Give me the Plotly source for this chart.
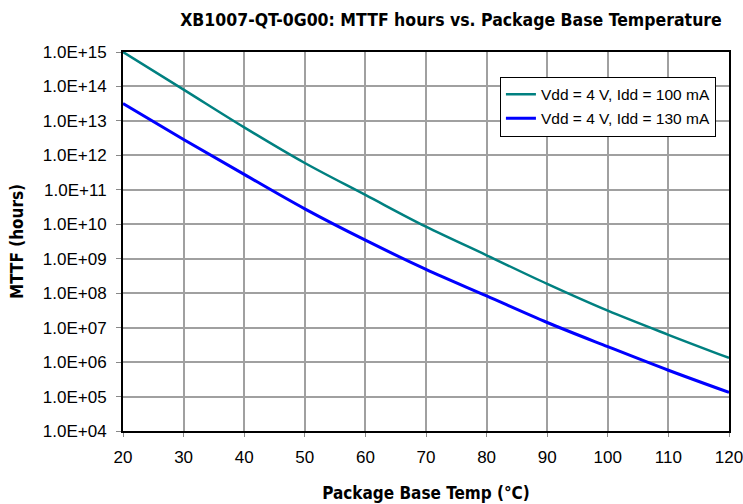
import plotly.graph_objects as go

temps = [20, 30, 40, 50, 60, 70, 80, 90, 100, 110, 120]
mttf_100mA = [1.0e15, 8.1e13, 6.5e12, 6.0e11, 7.1e10, 8.5e9, 1.26e9, 1.86e8, 3.1e7, 6.2e6, 1.32e6]
mttf_130mA = [3.2e13, 2.9e12, 2.8e11, 2.8e10, 3.45e9, 4.9e8, 8.3e7, 1.41e7, 2.8e6, 5.8e5, 1.32e5]
name_100 = "Vdd = 4 V, Idd = 100 mA"
name_130 = "Vdd = 4 V, Idd = 130 mA"
ytick_vals = [10.0 ** e for e in range(4, 16)]
ytick_text = ["1.0E+%02d" % e for e in range(4, 16)]
xtick_vals = list(range(20, 121, 10))

title_font = "DejaVu Sans Condensed, Liberation Sans Narrow, sans-serif"

fig = go.Figure()
fig.add_trace(go.Scatter(x=temps, y=mttf_100mA, mode="lines", name=name_100, legendgroup="a",
                         line=dict(color="#008080", width=2.5, shape="spline")))
fig.add_trace(go.Scatter(x=temps, y=mttf_130mA, mode="lines", name=name_130, legendgroup="b",
                         line=dict(color="#0000FF", width=3, shape="spline")))

fig.update_layout(
    width=743, height=504,
    margin=dict(l=123, r=14, t=52, b=73),
    paper_bgcolor="white", plot_bgcolor="white",
    font=dict(family="Liberation Sans, Arial, sans-serif", size=17, color="black"),
    title=dict(text="<b>XB1007-QT-0G00: MTTF hours vs. Package Base Temperature</b>",
               x=0.607, xanchor="center", y=0.96, yanchor="middle",
               font=dict(family=title_font, size=17.5)),
    legend=dict(x=0.622, y=0.935, xanchor="left", yanchor="top",
                bgcolor="white", bordercolor="black", borderwidth=1,
                font=dict(size=15.5), tracegroupgap=1, itemwidth=30),
    showlegend=True,
)
fig.update_xaxes(range=[20, 120], tickvals=xtick_vals, showgrid=True, automargin=False,
                 gridcolor="#a0a0a0", gridwidth=2, ticklabeloverflow="allow",
                 showline=True, linecolor="black", linewidth=2, mirror=True,
                 ticks="outside", ticklen=4, tickcolor="#888888", ticklabelstandoff=6,
                 title=dict(text="<b>Package Base Temp (°C)</b>", standoff=21,
                            font=dict(family=title_font, size=17)),
                 zeroline=False)
fig.update_yaxes(type="log", range=[4, 15], tickvals=ytick_vals, ticktext=ytick_text,
                 showgrid=True, automargin=False, gridcolor="#a0a0a0", gridwidth=2,
                 ticklabeloverflow="allow",
                 showline=True, linecolor="black", linewidth=2, mirror=True,
                 ticks="outside", ticklen=5, tickcolor="#888888", ticklabelstandoff=6,
                 title=dict(text="<b>MTTF (hours)</b>", standoff=15,
                            font=dict(family=title_font, size=17)),
                 zeroline=False)

fig.write_html("out.html", config={"displayModeBar": False},
               post_script="document.body.style.margin='0';")
